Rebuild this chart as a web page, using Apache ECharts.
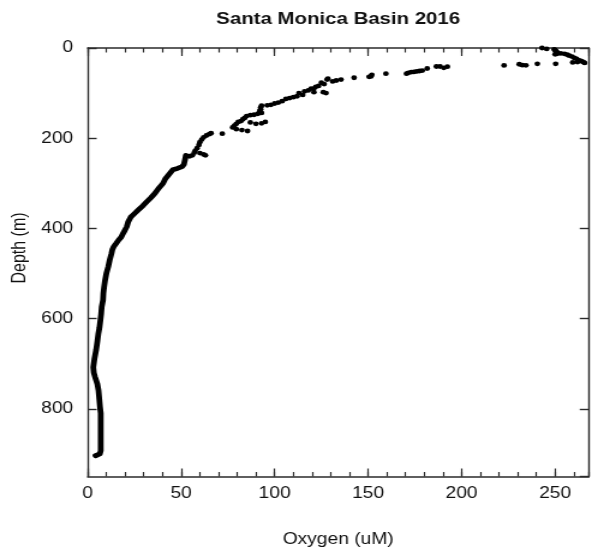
<!DOCTYPE html>
<html>
<head>
<meta charset="utf-8">
<script src="https://cdn.jsdelivr.net/npm/echarts@6/dist/echarts.min.js"></script>
<style>
  html, body { margin: 0; padding: 0; background: #fff; overflow: hidden; }
  /* the figure is laid out on a narrower canvas and widened to the 592px frame */
  #chart { width: 493px; height: 553px; transform: scaleX(1.2008); transform-origin: 0 0; }
</style>
</head>
<body>
<div id="chart"></div>
<script>
// Continuous sensor trace below ~240 m (oxygen in uM, depth in m)
const deepOxygen = [52.5, 52.2, 51.8, 51.5, 50.5, 48.0, 45.5, 44.5, 43.5, 41.5, 40.3, 38.2, 36.0, 33.8, 31.6,
  29.5, 27.1, 24.8, 23.0, 22.5, 21.7, 20.9, 19.8, 18.8, 18.0, 16.5, 15.3, 14.0, 13.2, 12.7, 11.8, 11.0, 10.0,
  9.3, 8.8, 8.4, 8.2, 7.5, 7.2, 6.8, 6.3, 5.7, 5.2, 4.5, 3.6, 3.0, 3.3, 4.0, 5.2, 5.8, 6.2, 6.6, 7.0, 7.0,
  7.0, 7.0, 7.0, 6.5, 5.5, 4.2];
const deepDepth = [238, 245, 252, 258, 263, 267, 270, 275, 280, 290, 300, 310, 322, 332, 341,
  350, 359, 368, 375, 378, 385, 396, 405, 412, 419, 426, 433, 440, 447, 456, 470, 485, 500,
  515, 530, 544, 559, 574, 590, 604, 620, 634, 650, 670, 690, 708, 720, 730, 745, 759, 778, 796, 810, 830,
  856, 875, 893, 900, 904, 904];

// Upper water column readings (0-240 m)
const upperOxygen = [243, 245.5, 249.5, 250, 250.5, 251, 250.5, 251, 250,
  253, 255, 256.5, 257.6, 259, 260.3, 261.5, 263, 264, 265, 265.8, 262, 259.4,
  250.3, 240.5, 234.4, 232.5, 230.8, 222.7,
  192.4, 190.5, 188.5, 186.5, 181.6, 179, 177.5, 176, 174.5, 173, 171.5, 170.5, 159.5, 152, 151.5, 150.5,
  142.5, 135.5, 133, 131, 128.5, 128, 126.5, 125, 123.5, 122, 121, 119.5, 126, 127.5, 121, 118, 116, 113,
  115, 112, 110, 108, 106, 104, 102, 100, 98, 96, 93, 92.5, 92.5, 92, 93, 91, 89, 87, 85, 84, 83, 82,
  80.5, 79.5, 78.5, 77.5, 79.5, 82.5, 85.5, 95, 93, 90, 87, 72, 66, 65, 63.5, 62, 61, 60, 59.5, 58.5,
  57.5, 57, 60, 62, 63, 56, 54.5];
const upperDepth = [0, 2, 3, 5, 7, 9, 11, 13, 14,
  12, 13, 15, 17, 19, 22, 24, 27.5, 29, 31, 33, 31, 32,
  35, 35, 38.5, 38, 36, 38.6,
  41.5, 44, 41, 41, 45.5, 50, 51, 52, 53, 53.5, 55, 57, 57, 59.5, 63, 64,
  66, 70, 72, 74, 68, 70, 80, 77, 84, 86, 90, 90, 98, 100, 98, 94, 96, 100,
  104, 107, 109, 111, 113, 118, 121, 123, 126, 127, 128, 132, 136, 140, 144, 146, 148, 149, 151, 155, 158, 162,
  164, 168, 172, 176, 180, 182, 184, 164, 167, 168, 165, 190, 189, 191, 194, 198, 203, 209, 215, 222,
  228, 232, 233, 236, 238, 238, 240];

// Axis ranges and tick steps
const oxygenMin = 0, oxygenMax = 268, oxygenMajor = 50, oxygenMinor = 10;
const depthMin = 0, depthMax = 950, depthMajor = 200;

const pairs = (xs, ys) => xs.map((x, i) => [x, ys[i]]);

const FONT = '"Liberation Sans", Arial, Helvetica, sans-serif';
const AXIS_COLOR = '#2b2b2b';
const TEXT_COLOR = '#111';

const GRID = { left: 73, right: 2.7, top: 48, bottom: 76.5 };
const plotCenterX = (GRID.left + (493 - GRID.right)) / 2;

// Oxygen axes: a labelled major-tick axis plus a bare minor-tick axis on each side
function xAxisDef(position, interval, tickLen, withLabels) {
  return {
    type: 'value', position, min: oxygenMin, max: oxygenMax, interval,
    axisLine: { show: withLabels !== null, onZero: false, lineStyle: { color: AXIS_COLOR, width: 1.5 } },
    axisTick: { show: true, inside: true, length: tickLen, lineStyle: { color: AXIS_COLOR, width: 1.2 } },
    axisLabel: {
      show: !!withLabels, margin: 9, color: TEXT_COLOR, fontSize: 16, fontFamily: FONT,
      showMaxLabel: false
    },
    splitLine: { show: false }
  };
}

function yAxisDef(position, withLabels) {
  return {
    type: 'value', position, inverse: true, min: depthMin, max: depthMax, interval: depthMajor,
    axisLine: { show: true, onZero: false, lineStyle: { color: AXIS_COLOR, width: 1.4 } },
    axisTick: { show: true, inside: true, length: 7.5, lineStyle: { color: AXIS_COLOR, width: 1.4 } },
    axisLabel: {
      show: withLabels, margin: 12, color: TEXT_COLOR, fontSize: 16, fontFamily: FONT,
      showMaxLabel: false
    },
    splitLine: { show: false }
  };
}

const chart = echarts.init(document.getElementById('chart'), null, { renderer: 'canvas' });

chart.setOption({
  animation: false,
  backgroundColor: '#fff',
  grid: Object.assign({ containLabel: false }, GRID),
  xAxis: [
    xAxisDef('bottom', oxygenMajor, 8, true),
    xAxisDef('bottom', oxygenMinor, 4.5, null),
    xAxisDef('top', oxygenMajor, 8, false),
    xAxisDef('top', oxygenMinor, 4.5, null)
  ],
  yAxis: [
    yAxisDef('left', true),
    yAxisDef('right', false)
  ],
  graphic: [
    {
      type: 'text', x: plotCenterX, y: 19,
      style: { text: 'Santa Monica Basin 2016', font: 'bold 17px ' + FONT, fill: TEXT_COLOR, textAlign: 'center', textVerticalAlign: 'middle' }
    },
    {
      type: 'text', x: plotCenterX, y: 540,
      style: { text: 'Oxygen (uM)', font: '16px ' + FONT, fill: TEXT_COLOR, textAlign: 'center', textVerticalAlign: 'middle' }
    },
    {
      type: 'text', x: 16.7, y: 248, rotation: Math.PI / 2,
      style: { text: 'Depth (m)', font: '16px ' + FONT, fill: TEXT_COLOR, textAlign: 'center', textVerticalAlign: 'middle' }
    }
  ],
  series: [
    {
      name: 'Deep profile',
      type: 'line',
      xAxisIndex: 0, yAxisIndex: 0,
      data: pairs(deepOxygen, deepDepth),
      showSymbol: false,
      smooth: false,
      lineStyle: { color: '#000', width: 4.8, cap: 'round', join: 'round' }
    },
    {
      name: 'Upper readings',
      type: 'scatter',
      xAxisIndex: 0, yAxisIndex: 0,
      data: pairs(upperOxygen, upperDepth),
      symbol: 'circle',
      symbolSize: 4.8,
      itemStyle: { color: '#000', opacity: 1 }
    }
  ]
});
</script>
</body>
</html>
